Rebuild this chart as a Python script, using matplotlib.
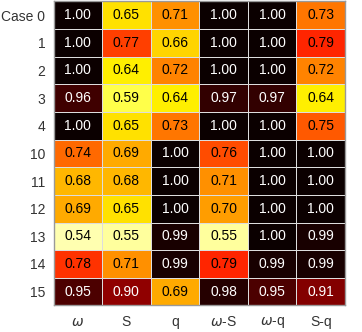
import numpy as np
import matplotlib.pyplot as plt

plt.rcParams['font.family'] = ['Liberation Sans', 'DejaVu Sans']

# rows: cases, columns: parameters
cases = ['Case 0', '1', '2', '3', '4', '10', '11', '12', '13', '14', '15']
params = [r'$\omega$', 'S', 'q', r'$\omega$-S', r'$\omega$-q', 'S-q']

col_w = [1.00, 1.00, 1.00, 0.96, 1.00, 0.74, 0.68, 0.69, 0.54, 0.78, 0.95]
col_s = [0.65, 0.77, 0.64, 0.59, 0.65, 0.69, 0.68, 0.65, 0.55, 0.71, 0.90]
col_q = [0.71, 0.66, 0.72, 0.64, 0.73, 1.00, 1.00, 1.00, 0.99, 0.99, 0.69]
col_ws = [1.00, 1.00, 1.00, 0.97, 1.00, 0.76, 0.71, 0.70, 0.55, 0.79, 0.98]
col_wq = [1.00, 1.00, 1.00, 0.97, 1.00, 1.00, 1.00, 1.00, 1.00, 0.99, 0.95]
col_sq = [0.73, 0.79, 0.72, 0.64, 0.75, 1.00, 1.00, 1.00, 0.99, 0.99, 0.91]

data = np.array([col_w, col_s, col_q, col_ws, col_wq, col_sq]).T

fig = plt.figure(figsize=(3.62, 3.32), dpi=100)
ax = fig.add_axes([0.148, 0.08, 0.805, 0.916])

vmin, vmax = 0.5, 1.0
ax.pcolormesh(data, cmap='hot_r', vmin=vmin, vmax=vmax,
              edgecolors='#dddddd', linewidth=0.5)
ax.set_xlim(0, data.shape[1])
ax.set_ylim(data.shape[0], 0)

for i in range(data.shape[0]):
    for j in range(data.shape[1]):
        v = data[i, j]
        color = 'white' if v >= 0.88 else 'black'
        ax.text(j + 0.5, i + 0.5, f'{v:.2f}', ha='center', va='center',
                color=color, fontsize=10)

ax.set_xticks(np.arange(data.shape[1]) + 0.5)
ax.set_xticklabels(params, fontsize=10, color='#333333')
ax.set_yticks(np.arange(data.shape[0]) + 0.5)
ax.set_yticklabels(cases, fontsize=10, color='#333333')
ax.tick_params(axis='y', length=0, pad=6)
ax.tick_params(axis='x', length=0, pad=7)

for spine in ax.spines.values():
    spine.set_color('#999999')
    spine.set_linewidth(1)

fig.savefig('out.png', dpi=100)
